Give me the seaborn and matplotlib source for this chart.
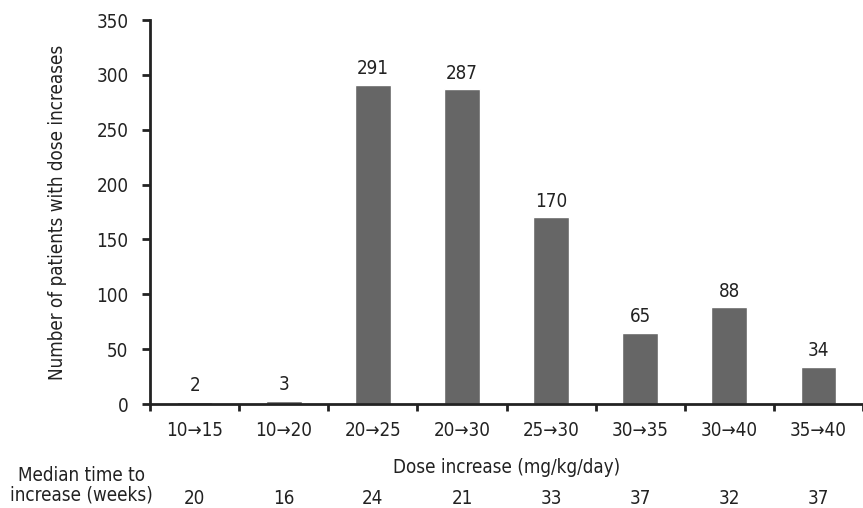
import numpy as np
import pandas as pd
import matplotlib
matplotlib.use("Agg")
import matplotlib.pyplot as plt
import seaborn as sns

# data
dose_steps = ["10→15", "10→20", "20→25", "20→30", "25→30", "30→35", "30→40", "35→40"]
patients = [2, 3, 291, 287, 170, 65, 88, 34]
median_weeks = [20, 16, 24, 21, 33, 37, 32, 37]

sns.set_style("white")
plt.rcParams['font.family'] = ['DejaVu Sans']
plt.rcParams['font.stretch'] = 'condensed'
fs = 13.5
plt.rcParams['font.size'] = fs
ink = "#222222"

df = pd.DataFrame({"dose": dose_steps, "n": patients})

fig = plt.figure(figsize=(8.63, 5.08), dpi=100)
ax = fig.add_axes([150 / 863, 1 - 404 / 508, 713 / 863, 384 / 508])

sns.barplot(data=df, x="dose", y="n", color="#666666", width=0.4,
            saturation=1, ax=ax)

# value labels above bars
for i, v in enumerate(patients):
    ax.text(i, v + 6, str(v), ha="center", va="bottom", fontsize=fs, color=ink)

ax.set_ylim(0, 350)
ax.set_xlim(-0.5, -0.5 + 713 / 90)
ax.set_yticks(np.arange(0, 351, 50))
ax.set_xticks(np.arange(len(dose_steps)))
ax.set_xticklabels(dose_steps)

# ticks sit between categories
ax.set_xticks(np.arange(len(dose_steps) + 1) - 0.5, minor=True)
ax.tick_params(axis="x", which="major", length=0, pad=12, labelcolor=ink)
ax.tick_params(axis="x", which="minor", length=5, width=2, direction="out", color=ink)
ax.tick_params(axis="y", length=6, width=2, direction="out", color=ink,
               labelcolor=ink, pad=9.5)
ax.xaxis.set_ticks_position("bottom")
ax.yaxis.set_ticks_position("left")

for side in ["top", "right"]:
    ax.spines[side].set_visible(False)
for side in ["left", "bottom"]:
    ax.spines[side].set_linewidth(2)
    ax.spines[side].set_color(ink)

ax.set_xlabel("Dose increase (mg/kg/day)", fontsize=fs, labelpad=13, color=ink)
ax.set_ylabel("Number of patients with dose increases", fontsize=fs, labelpad=21,
              color=ink)

# median time row under the axis
for i, w in enumerate(median_weeks):
    ax.text(i, -0.245, str(w), transform=ax.get_xaxis_transform(),
            ha="center", va="center", fontsize=fs, color=ink)
fig.text(81 / 863, 1 - 485 / 508, "Median time to\nincrease (weeks)", ha="center",
         va="center", fontsize=fs, color=ink, linespacing=1.05)

fig.savefig("out.png", dpi=100)
